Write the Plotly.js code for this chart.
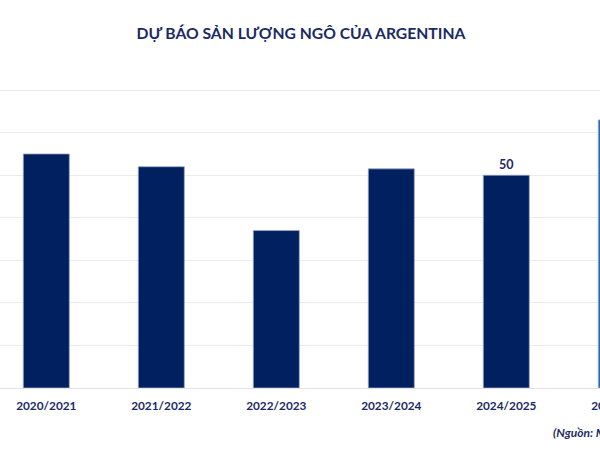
<!DOCTYPE html>
<html>
<head>
<meta charset="utf-8">
<script src="https://cdn.plot.ly/plotly-3.0.1.min.js"></script>
<style>
  html, body { margin: 0; padding: 0; width: 600px; height: 450px; overflow: hidden; background: #ffffff; }
  #chart { position: absolute; left: 0; top: 0; width: 720px; height: 450px; }
</style>
</head>
<body>
<div id="chart"></div>
<script>
const categories = ['2020/2021', '2021/2022', '2022/2023', '2023/2024', '2024/2025', '2025/2026'];
const values = [55, 52, 37, 51.5, 50, 63];
const barLabels = ['', '', '', '', '50', ''];
const barColors = ['#002060', '#002060', '#002060', '#002060', '#002060', '#1f6bbf'];
const titleText = 'DỰ BÁO SẢN LƯỢNG NGÔ CỦA ARGENTINA';
const sourceText = '(Nguồn: MXV)';

const W = 720, H = 450;
const navy = '#1b2a63';
const FONT = 'Lato, "Open Sans", sans-serif';

const trace = {
  type: 'bar',
  x: categories,
  y: values,
  text: barLabels,
  textposition: 'outside',
  cliponaxis: false,
  textfont: { family: FONT, size: 12.5, color: navy, weight: 'bold' },
  marker: { color: barColors, line: { color: '#9aa6c8', width: 0.8 } },
  hoverinfo: 'none'
};

const layout = {
  width: W,
  height: H,
  margin: { l: 0, r: 0, t: 88, b: 62 },
  paper_bgcolor: '#ffffff',
  plot_bgcolor: '#ffffff',
  showlegend: false,
  bargap: 0.6,
  font: { family: FONT, color: navy },
  title: {
    text: '<b>' + titleText + '</b>',
    font: { family: FONT, size: 15.7, color: navy },
    x: 301 / W, xref: 'container', xanchor: 'center',
    y: 1 - 34 / H, yref: 'container', yanchor: 'middle'
  },
  xaxis: {
    type: 'category',
    range: [-0.4026, (W - 46.3) / 115],
    showgrid: false,
    showline: false,
    zeroline: false,
    ticks: '',
    ticklabelstandoff: 9,
    tickfont: { family: FONT, size: 11.8, color: navy, weight: 'bold' },
    fixedrange: true
  },
  yaxis: {
    range: [0, 70.5],
    dtick: 10,
    tick0: 0,
    showticklabels: false,
    showgrid: true,
    gridcolor: '#ebebeb',
    gridwidth: 1,
    zeroline: true,
    zerolinecolor: '#e2e2e2',
    zerolinewidth: 1,
    showline: false,
    ticks: '',
    fixedrange: true
  },
  annotations: [{
    text: '<i><b>' + sourceText + '</b></i>',
    xref: 'paper', yref: 'paper',
    x: 551 / W, xanchor: 'left',
    y: (388 - 432) / 300, yanchor: 'middle',
    showarrow: false,
    font: { family: FONT, size: 12, color: navy }
  }]
};

Plotly.newPlot('chart', [trace], layout, { displayModeBar: false, staticPlot: true });
</script>
</body>
</html>
